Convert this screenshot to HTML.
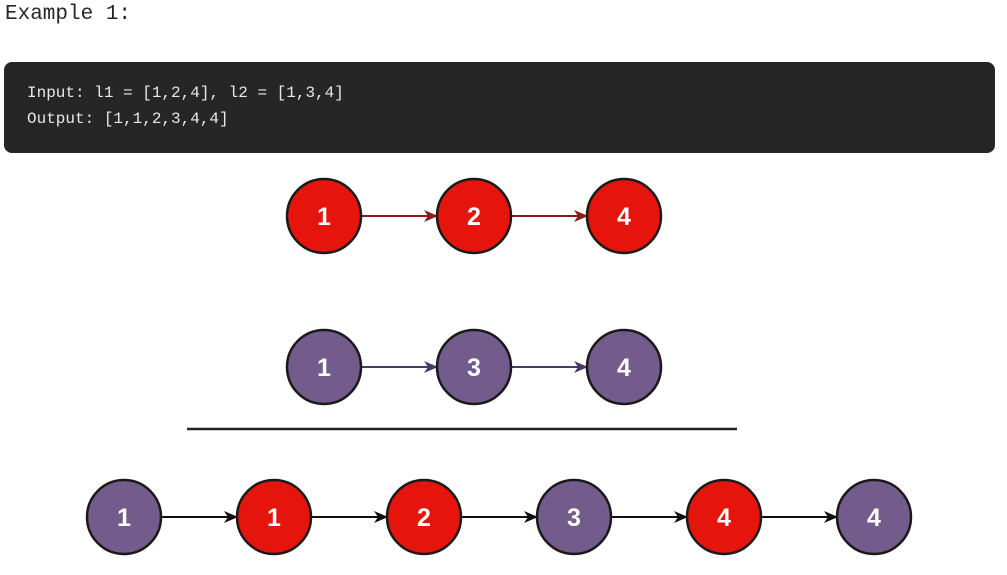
<!DOCTYPE html>
<html><head><meta charset="utf-8"><style>
body{margin:0;width:1007px;height:575px;background:#fff;overflow:hidden;position:relative;font-family:"Liberation Mono",monospace}
#title{position:absolute;left:5px;top:3px;font-size:21px;color:#262626}
#code{position:absolute;left:4px;top:62px;width:991px;height:91px;background:#262626;border-radius:8px;color:#e8e8e8;font-size:16px;line-height:26px;box-sizing:border-box;padding:18px 0 0 23px;white-space:pre}
svg{position:absolute;left:0;top:0}
</style></head><body>
<div id="title">Example 1:</div>
<div id="code">Input: l1 = [1,2,4], l2 = [1,3,4]
Output: [1,1,2,3,4,4]</div>
<svg id="s" width="1007" height="575">
<defs>
<marker id="mr" markerWidth="14" markerHeight="12" refX="13" refY="6" orient="auto" markerUnits="userSpaceOnUse"><path d="M0,0 L14,6 L0,12 L4,6z" fill="#8b1a1a"/></marker>
<marker id="mp" markerWidth="14" markerHeight="12" refX="13" refY="6" orient="auto" markerUnits="userSpaceOnUse"><path d="M0,0 L14,6 L0,12 L4,6z" fill="#4a3a6a"/></marker>
<marker id="mk" markerWidth="14" markerHeight="12" refX="13" refY="6" orient="auto" markerUnits="userSpaceOnUse"><path d="M0,0 L14,6 L0,12 L4,6z" fill="#111"/></marker>
</defs>
<line x1="187" y1="429" x2="737" y2="429" stroke="#222" stroke-width="2.5"/>
</svg>
<script>
const list1=[1,2,4], list1Colors=['r','r','r'];
const list2=[1,3,4], list2Colors=['p','p','p'];
const merged=[1,1,2,3,4,4], mergedColors=['p','r','r','p','r','p'];
const svg=document.getElementById('s'),NS='http://www.w3.org/2000/svg';
const fill={r:'#e5140c',p:'#735b8c'}, arrow={r:['#8b1a1a','mr'],p:['#4a3a6a','mp'],k:['#111','mk']};
function row(vals,cols,x0,y,ac,name){
  const R=37;
  for(let i=0;i<vals.length-1;i++){
    const l=document.createElementNS(NS,'line');
    l.setAttribute('x1',x0+i*150+R);l.setAttribute('y1',y);
    l.setAttribute('x2',x0+(i+1)*150-R);l.setAttribute('y2',y);
    l.setAttribute('stroke',arrow[ac][0]);l.setAttribute('stroke-width',2);
    l.setAttribute('marker-end','url(#'+arrow[ac][1]+')');
    
    
    svg.appendChild(l);
  }
  vals.forEach((v,i)=>{
    const g=document.createElementNS(NS,'g');
    
    
    const c=document.createElementNS(NS,'circle');
    c.setAttribute('cx',x0+i*150);c.setAttribute('cy',y);c.setAttribute('r',R);
    c.setAttribute('fill',fill[cols[i]]);c.setAttribute('stroke','#1a1a1a');c.setAttribute('stroke-width',2.5);
    const t=document.createElementNS(NS,'text');
    t.setAttribute('x',x0+i*150);t.setAttribute('y',y+9);t.setAttribute('text-anchor','middle');
    t.setAttribute('fill','#fff');t.setAttribute('font-size','25');t.setAttribute('font-weight','bold');
    t.setAttribute('font-family','Liberation Sans, sans-serif');t.textContent=v;
    g.appendChild(c);g.appendChild(t);svg.appendChild(g);
  });
}
row(list1,list1Colors,324,216,'r','list1');
row(list2,list2Colors,324,367,'p','list2');
row(merged,mergedColors,124,517,'k','merged');
</script>
</body></html>
